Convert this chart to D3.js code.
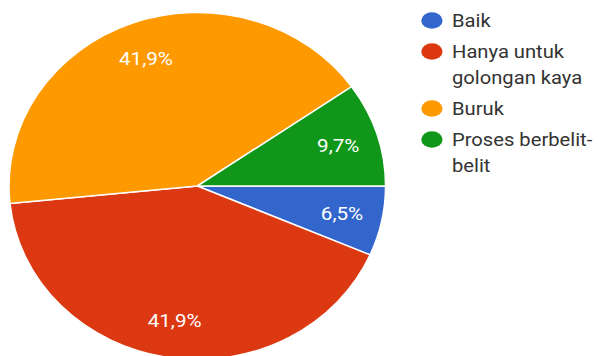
<!DOCTYPE html>
<html>
<head>
<meta charset="utf-8">
<script src="https://cdn.jsdelivr.net/npm/d3@7"></script>
<style>
  html, body { margin: 0; padding: 0; background: #fff; }
  svg { display: block; font-family: Roboto, "Noto Sans", Arial, sans-serif; }
  .pct { fill: #fff; font-size: 19px; }
  .legend text { fill: #333; font-size: 18.6px; }
</style>
</head>
<body>
<div class="chart"></div>
<script>
// answers and their share of responses (percent)
var categories = ['Baik', 'Hanya untuk golongan kaya', 'Buruk', 'Proses berbelit-belit'];
var legendLines = [['Baik'], ['Hanya untuk', 'golongan kaya'], ['Buruk'], ['Proses berbelit-', 'belit']];
var values = [6.5, 41.9, 41.9, 9.7];
var colors = ['#3366cc', '#dc3912', '#ff9900', '#109618'];

var width = 602, height = 356;
var radius = 173.5;
var stretch = 1.085; // the source image is slightly wider than tall

var svg = d3.select('.chart').append('svg')
  .attr('width', width)
  .attr('height', height);

var data = categories.map(function (c, i) { return {name: c, value: values[i], lines: legendLines[i]}; });

var color = d3.scaleOrdinal().domain(categories).range(colors);

var pie = d3.pie()
  .sort(null)
  .value(function (d) { return d.value; })
  .startAngle(Math.PI / 2)
  .endAngle(Math.PI / 2 + 2 * Math.PI);

var arc = d3.arc().innerRadius(0).outerRadius(radius);
var labelArc = d3.arc().innerRadius(radius * 0.785).outerRadius(radius * 0.785);

var pieGroup = svg.append('g')
  .attr('transform', 'translate(197.3,186) scale(' + stretch + ',1)');

var slices = pieGroup.selectAll('g.slice')
  .data(pie(data))
  .enter()
  .append('g')
  .attr('class', 'slice');

slices.append('path')
  .attr('d', arc)
  .style('fill', function (d) { return color(d.data.name); })
  .style('stroke', '#fff')
  .style('stroke-width', 1.5)
  .attr('vector-effect', 'non-scaling-stroke');

slices.append('text')
  .attr('class', 'pct')
  .attr('transform', function (d) { return 'translate(' + labelArc.centroid(d) + ')'; })
  .attr('text-anchor', 'middle')
  .attr('dy', '0.36em')
  .text(function (d) { return String(d.data.value).replace('.', ',') + '%'; });

// legend
var lineH = 26, gap = 31;
var y = 27;
data.forEach(function (d) {
  d.y = y;
  y += (d.lines.length - 1) * lineH + gap;
});

var legend = svg.append('g')
  .attr('class', 'legend')
  .attr('transform', 'translate(452,0) scale(' + stretch + ',1)');

var items = legend.selectAll('g')
  .data(data)
  .enter()
  .append('g')
  .attr('transform', function (d) { return 'translate(0,' + d.y + ')'; });

items.append('ellipse')
  .attr('cx', -18.5)
  .attr('cy', -6.5)
  .attr('rx', 9.8)
  .attr('ry', 8.3)
  .style('fill', function (d) { return color(d.name); });

items.append('text')
  .selectAll('tspan')
  .data(function (d) { return d.lines; })
  .enter()
  .append('tspan')
  .attr('x', 0)
  .attr('y', function (l, i) { return i * lineH; })
  .text(function (l) { return l; });
</script>
</body>
</html>
